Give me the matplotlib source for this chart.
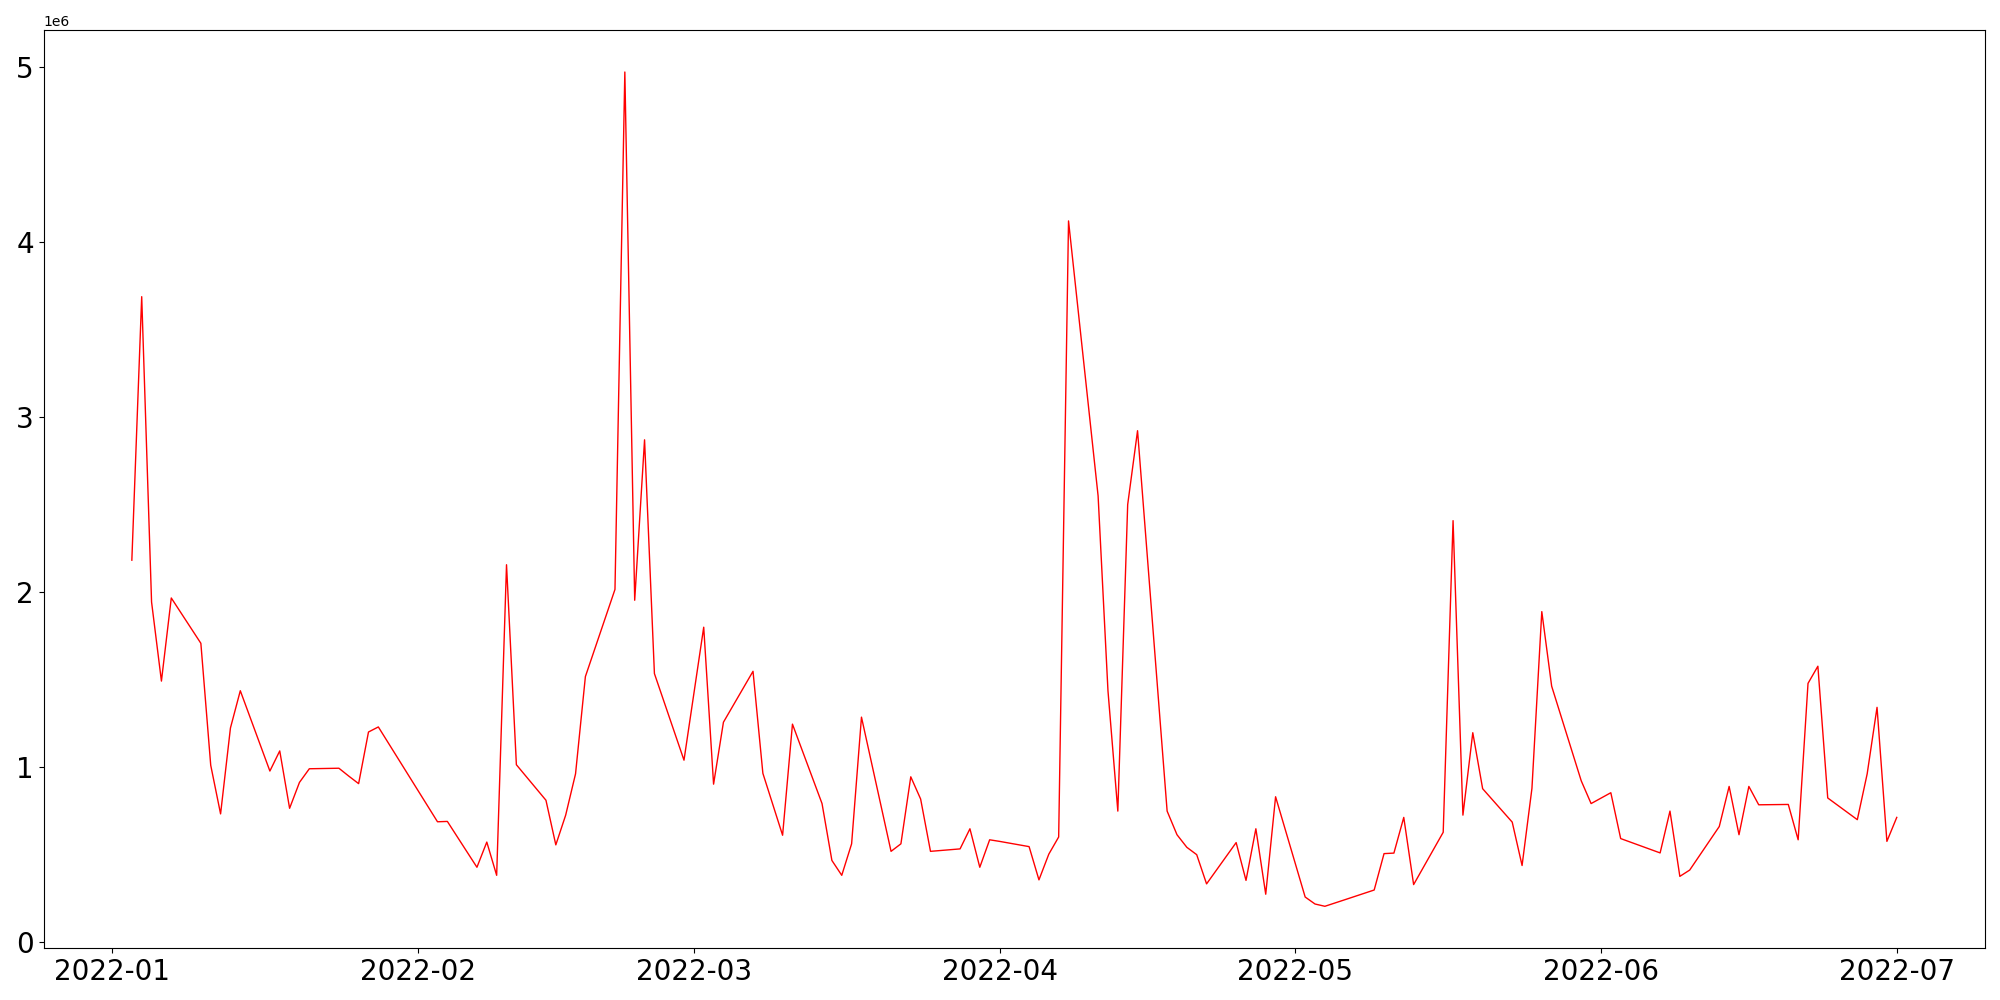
import numpy as np
import pandas as pd
import matplotlib
matplotlib.use('Agg')
import matplotlib.pyplot as plt

# KRX 휴장일 (2022 상반기)
holidays = ['2022-01-31', '2022-02-01', '2022-02-02', '2022-03-01',
            '2022-03-09', '2022-05-05', '2022-06-01', '2022-06-06']
dates = pd.bdate_range('2022-01-03', '2022-07-01')
dates = dates[~dates.isin(pd.to_datetime(holidays))]

# 거래량 (단위: 백만)
vol_jan = [2.180, 3.686, 1.941, 1.489, 1.964, 1.705, 1.008, 0.730, 1.221, 1.434,
           0.975, 1.090, 0.762, 0.910, 0.988, 0.991, 0.946, 0.903, 1.198, 1.227]
vol_feb = [0.685, 0.687, 0.425, 0.569, 0.379, 2.154, 1.011, 0.808, 0.553, 0.723,
           0.959, 1.515, 2.013, 4.970, 1.951, 2.868, 1.532, 1.037]
vol_mar = [1.797, 0.900, 1.254, 1.545, 0.962, 0.608, 1.243, 0.789, 0.464, 0.379,
           0.559, 1.283, 0.516, 0.559, 0.942, 0.815, 0.516, 0.530, 0.645, 0.425,
           0.582]
vol_apr = [0.573, 0.543, 0.353, 0.500, 0.598, 4.119, 2.547, 1.434, 0.746, 2.498,
           2.920, 0.746, 0.611, 0.539, 0.497, 0.330, 0.566, 0.350, 0.645, 0.271,
           0.828]
vol_may = [0.255, 0.215, 0.202, 0.239, 0.295, 0.503, 0.506, 0.710, 0.326, 0.625,
           2.406, 0.723, 1.194, 0.874, 0.683, 0.435, 0.876, 1.886, 1.460, 0.919,
           0.789]
vol_jun = [0.851, 0.589, 0.507, 0.746, 0.373, 0.409, 0.658, 0.887, 0.611, 0.887,
           0.782, 0.784, 0.582, 1.476, 1.574, 0.821, 0.697, 0.959, 1.339, 0.573]
vol_jul = [0.710]

volume = np.array(vol_jan + vol_feb + vol_mar + vol_apr + vol_may + vol_jun + vol_jul) * 1e6

plt.figure(figsize=(20, 10))
plt.plot(dates, volume, color='r', linewidth=1)
plt.xticks(fontsize=20)
plt.yticks(fontsize=20)
plt.subplots_adjust(left=0.0218, right=0.9925, top=0.9697, bottom=0.052)
plt.savefig('out.png', dpi=100)
